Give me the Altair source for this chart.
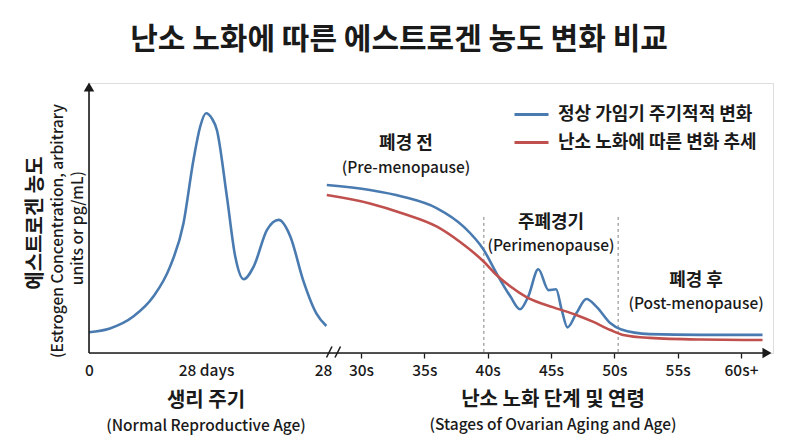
import altair as alt
import pandas as pd

FONT = "Noto Sans CJK KR"
BLUE = "#4a7bb0"
RED = "#c0504d"
INK = "#1a1a1a"
GRID = "#808080"

# ---------------- data ----------------
SERIES = ["정상 가임기 주기적적 변화", "난소 노화에 따른 변화 추세"]

cycle_days = [0, 2.5, 5.3, 7.7, 9.7, 11.3, 12.5, 13.3, 14.0, 14.7, 15.3, 16.5, 17.5, 18.5,
              19.7, 21.3, 22.7, 24.1, 25.6, 27.2, 28.4]
cycle_vals = [7.7, 9.1, 13.5, 20.9, 32.0, 48.0, 71.5, 83.8, 88.8, 86.9, 82.6, 57.9, 35.7, 27.3,
              32.0, 45.6, 49.3, 43.1, 27.2, 14.7, 10.0]

normal_ages = [27.3, 30.7, 33.3, 36.0, 38.1, 39.7, 40.7, 41.8, 42.55, 43.2, 44.0, 44.8, 45.4,
               45.85, 46.3, 47.0, 47.8, 48.6, 49.7, 50.5, 52.8, 56.8, 61.7]
normal_vals = [62.2, 60.4, 57.9, 53.6, 46.8, 38.1, 29.5, 20.9, 16.2, 20.9, 31.0, 23.3, 23.6,
               15.9, 9.5, 14.7, 20.0, 17.1, 11.0, 8.8, 7.0, 6.7, 6.7]

trend_ages = [27.3, 30.7, 33.3, 36.0, 37.8, 39.7, 40.7, 41.8, 43.1, 45.2, 47.0, 48.3, 49.7,
              50.7, 52.8, 56.8, 61.7]
trend_vals = [58.5, 55.4, 51.7, 46.8, 41.2, 33.8, 28.9, 24.6, 20.6, 16.9, 14.1, 11.6, 8.5,
              6.7, 5.6, 5.0, 4.8]

stage_bounds = [39.7, 50.3]
stage_bound_top = 50.4

age_ticks = [30, 35, 40, 45, 50, 55, 60]
cycle_ticks = [0, 14, 28]

stage_names = ["폐경 전", "주폐경기", "폐경 후"]
stage_names_en = ["(Pre-menopause)", "(Perimenopause)", "(Post-menopause)"]

TITLE = "난소 노화에 따른 에스트로겐 농도 변화 비교"
Y_TITLE = ["에스트로겐 농도", "(Estrogen Concentration, arbitrary", "units or pg/mL)"]
LEFT_X_TITLE = ["생리 주기", "(Normal Reproductive Age)"]
RIGHT_X_TITLE = ["난소 노화 단계 및 연령", "(Stages of Ovarian Aging and Age)"]

W, H = 684, 270
EN_SIZE = 15.5
EN_WEIGHT = 500

color = alt.Color(
    "series:N",
    scale=alt.Scale(domain=SERIES, range=[BLUE, RED]),
    legend=alt.Legend(
        title=None, orient="none", legendX=424, legendY=13, symbolType="stroke",
        symbolSize=1156, symbolStrokeWidth=3, labelFont=FONT, labelFontSize=18,
        labelFontWeight="bold", labelColor=INK, labelOffset=8, rowPadding=-3,
        padding=0, labelLimit=400,
    ),
)
yenc = alt.Y("val:Q", scale=alt.Scale(domain=[0, 100], nice=False, zero=False), axis=None)

axis_common = dict(
    orient="bottom", domain=False, grid=False, title=None, labelFont=FONT,
    labelFontSize=EN_SIZE, labelFontWeight=EN_WEIGHT, labelColor=INK, labelPadding=5,
    tickSize=5, labelBaseline="top", labelFlush=False, labelOverlap=False,
)

LEFT_SCALE = dict(domain=[0, 28], range=[0, 234], nice=False, zero=False)
RIGHT_SCALE = dict(domain=[30, 60], range=[272, 652], nice=False, zero=False)

x_left_axis = alt.X(
    "day:Q", scale=alt.Scale(**LEFT_SCALE),
    axis=alt.Axis(values=cycle_ticks,
                  labelExpr="datum.value == 14 ? '28 days' : format(datum.value, 'd')",
                  tickOpacity=0, **axis_common),
)
x_right_axis = alt.X(
    "age:Q", scale=alt.Scale(**RIGHT_SCALE),
    axis=alt.Axis(values=age_ticks,
                  labelExpr="datum.value >= 60 ? '60s+' : datum.value + 's'",
                  tickColor=INK, tickWidth=1.3, **axis_common),
)
x_left = alt.X("day:Q", scale=alt.Scale(**LEFT_SCALE), axis=None)
x_right = alt.X("age:Q", scale=alt.Scale(**RIGHT_SCALE), axis=None)


def text_layer(df, size, bold, **enc):
    return alt.Chart(df).mark_text(
        font=FONT, fontSize=size, fontWeight="bold" if bold else EN_WEIGHT,
        color=INK, baseline="middle", align="center",
    ).encode(text="t:N", **enc)


# ---------------- left panel ----------------
left_df = pd.DataFrame({"day": cycle_days, "val": cycle_vals, "series": SERIES[0]})
left_line = alt.Chart(left_df).mark_line(strokeWidth=2.6, interpolate="monotone").encode(
    x=x_left_axis, y=yenc, color=color
)

left_title_df = pd.DataFrame({"day": [14, 14], "val": [-17.8, -27.2], "t": LEFT_X_TITLE})
left_t1 = text_layer(left_title_df.iloc[[0]], 20, True, x=x_left, y=yenc)
left_t2 = text_layer(left_title_df.iloc[[1]], EN_SIZE, False, x=x_left, y=yenc)

# ---------------- right panel ----------------
right_df = pd.concat([
    pd.DataFrame({"age": normal_ages, "val": normal_vals, "series": SERIES[0]}),
    pd.DataFrame({"age": trend_ages, "val": trend_vals, "series": SERIES[1]}),
])
right_lines = alt.Chart(right_df).mark_line(strokeWidth=2.6, interpolate="monotone").encode(
    x=x_right_axis, y=yenc, color=color
)

bounds_df = pd.DataFrame({"age": stage_bounds, "val": [stage_bound_top] * 2, "base": [0, 0]})
dashed = alt.Chart(bounds_df).mark_rule(color=GRID, strokeWidth=1, strokeDash=[3, 3]).encode(
    x=x_right, y=yenc, y2="base:Q"
)

stage_df_ko = pd.DataFrame({"age": [33.55, 45.0, 56.45], "val": [77.4, 48.2, 26.7],
                            "t": stage_names})
stage_df_en = pd.DataFrame({"age": [33.55, 45.0, 56.45], "val": [68.6, 39.6, 18.2],
                            "t": stage_names_en})
stage_ko = text_layer(stage_df_ko, 18, True, x=x_right, y=yenc)
stage_en = text_layer(stage_df_en, EN_SIZE, False, x=x_right, y=yenc)

right_title_df = pd.DataFrame({"age": [45.16, 45.16], "val": [-17.4, -26.7], "t": RIGHT_X_TITLE})
right_t1 = text_layer(right_title_df.iloc[[0]], 20, True, x=x_right, y=yenc)
right_t2 = text_layer(right_title_df.iloc[[1]], EN_SIZE, False, x=x_right, y=yenc)

# ---------------- decorations (pixel-positioned) ----------------
one = pd.DataFrame({"k": [0]})
title_mark = text_layer(pd.DataFrame({"t": [TITLE]}), 30, True,
                        x=alt.value(310), y=alt.value(-43))
ytitle_1 = text_layer(pd.DataFrame({"t": [Y_TITLE[0]]}), 20, True,
                      x=alt.value(-53), y=alt.value(140), angle=alt.value(270))
ytitle_2 = text_layer(pd.DataFrame({"t": [Y_TITLE[1]]}), EN_SIZE, False,
                      x=alt.value(-31), y=alt.value(148), angle=alt.value(270))
ytitle_3 = text_layer(pd.DataFrame({"t": [Y_TITLE[2]]}), EN_SIZE, False,
                      x=alt.value(-11), y=alt.value(145), angle=alt.value(270))
x_axis_line = alt.Chart(one).mark_rule(color=INK, strokeWidth=1.6).encode(
    x=alt.value(0), x2=alt.value(W - 6), y=alt.value(H)
)
y_axis_line = alt.Chart(one).mark_rule(color=INK, strokeWidth=1.6).encode(
    x=alt.value(0), y=alt.value(6), y2=alt.value(H)
)
y_arrow = alt.Chart(one).mark_point(shape="triangle-up", filled=True, size=110,
                                    color=INK, opacity=1).encode(x=alt.value(0), y=alt.value(4))
x_arrow = alt.Chart(one).mark_point(shape="triangle-right", filled=True, size=110,
                                    color=INK, opacity=1).encode(x=alt.value(W - 6), y=alt.value(H))
break1 = alt.Chart(one).mark_rule(color=INK, strokeWidth=1.5).encode(
    x=alt.value(237.5), x2=alt.value(243), y=alt.value(H + 4.5), y2=alt.value(H - 6.5)
)
break2 = alt.Chart(one).mark_rule(color=INK, strokeWidth=1.5).encode(
    x=alt.value(246), x2=alt.value(251.5), y=alt.value(H + 4.5), y2=alt.value(H - 6.5)
)

chart = (
    alt.layer(
        left_line, left_t1, left_t2,
        dashed, right_lines, stage_ko, stage_en, right_t1, right_t2,
        title_mark, ytitle_1, ytitle_2, ytitle_3,
        x_axis_line, y_axis_line, y_arrow, x_arrow, break1, break2,
    )
    .resolve_scale(x="independent")
    .properties(
        width=W, height=H, autosize=alt.AutoSizeParams(type="none"),
        padding={"left": 81, "top": 75, "right": 19, "bottom": 84},
        background="white",
    )
    .configure_view(stroke=None)
    .configure(font=FONT)
)

chart.save("out.html", embed_options={"renderer": "svg", "actions": False})
